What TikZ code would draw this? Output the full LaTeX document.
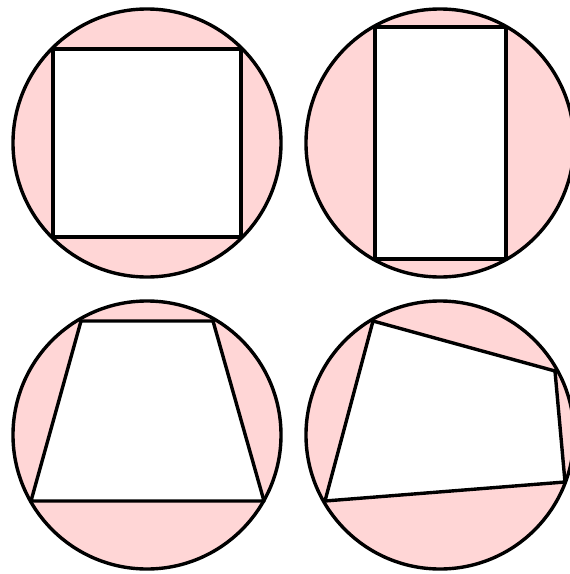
\documentclass[tikz,border=0pt]{standalone}
\begin{document}
\begin{tikzpicture}[x=1pt,y=-1pt,
  disc/.style={fill=pinkfill,draw=black,line width=3.4pt},
  quad/.style={fill=white,draw=black,line width=3.4pt,line join=round}]
\definecolor{pinkfill}{RGB}{255,214,214}
\useasboundingbox (0,0) rectangle (570,574);
\clip (0,0) rectangle (570,574);
% top left
\draw[disc] (147,143) circle (134);
\draw[quad] (53,49) -- (241,49) -- (241,237) -- (53,237) -- cycle;
% top right
\draw[disc] (440,143) circle (134);
\draw[quad] (375,27) -- (506,27) -- (506,259) -- (375,259) -- cycle;
% bottom left
\draw[disc] (147,435) circle (134);
\draw[quad] (81,321) -- (213,321) -- (264,501) -- (31,501) -- cycle;
% bottom right
\draw[disc] (440,435) circle (134);
\draw[quad] (373,321) -- (555,371) -- (565,482) -- (325,501) -- cycle;
\end{tikzpicture}
\end{document}
